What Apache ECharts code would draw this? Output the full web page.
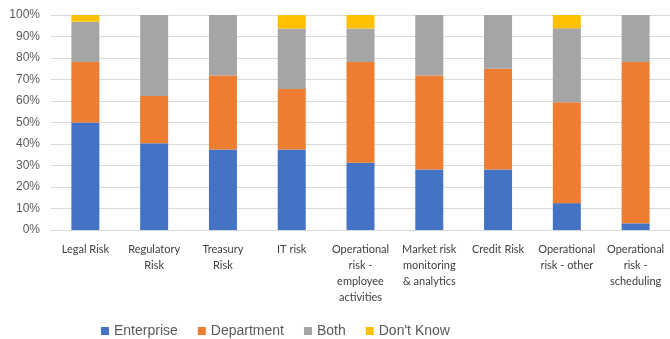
<!DOCTYPE html>
<html>
<head>
<meta charset="utf-8">
<style>
  html, body { margin: 0; padding: 0; background: #fff; }
  #chart { width: 670px; height: 339px; }
</style>
<script src="https://cdn.jsdelivr.net/npm/echarts@6/dist/echarts.min.js"></script>
</head>
<body>
<div id="chart"></div>
<script>
// categories (line breaks as in the original axis)
const categories = [
  'Legal Risk',
  'Regulatory\nRisk',
  'Treasury\nRisk',
  'IT risk',
  'Operational\nrisk -\nemployee\nactivities',
  'Market risk\nmonitoring\n& analytics',
  'Credit Risk',
  'Operational\nrisk - other',
  'Operational\nrisk -\nscheduling'
]

// share of respondents, percent
const enterprise = [50, 40.3, 37.5, 37.5, 31.25, 28.1, 28.1, 12.5, 3.1]
const department = [28.1, 22, 34.4, 28.1, 46.9, 43.8, 46.9, 46.9, 75]
const both = [18.8, 37.7, 28.1, 28.1, 15.6, 28.1, 25, 34.4, 21.9]
const dontKnow = [3.1, 0, 0, 6.25, 6.25, 0, 0, 6.25, 0]

const seriesNames = ['Enterprise', 'Department', 'Both', "Don't Know"]
const colors = ['#4472C4', '#ED7D31', '#A5A5A5', '#FFC000']

const chart = echarts.init(document.getElementById('chart'))

const series = [enterprise, department, both, dontKnow].map((vals, i) => ({
  name: seriesNames[i],
  type: 'bar',
  stack: 'total',
  barWidth: 28,
  itemStyle: { color: colors[i] },
  data: vals
}))

chart.setOption({
  animation: false,
  textStyle: { fontFamily: 'Lato' },
  grid: {
    left: 51,
    top: 15,
    width: 620,
    height: 215
  },
  legend: {
    left: 96,
    top: 319,
    itemWidth: 8,
    itemHeight: 8,
    itemGap: 20,
    icon: 'rect',
    textStyle: { fontSize: 14, color: '#595959', fontFamily: 'Liberation Sans' },
    data: seriesNames
  },
  xAxis: {
    type: 'category',
    data: categories,
    axisLine: { show: true, lineStyle: { color: '#d9d9d9' } },
    axisTick: { show: false },
    axisLabel: {
      interval: 0,
      fontSize: 11,
      lineHeight: 16,
      color: '#404040',
      margin: 11,
      verticalAlign: 'top'
    }
  },
  yAxis: {
    type: 'value',
    min: 0,
    max: 100,
    interval: 10,
    axisLine: { show: false },
    axisTick: { show: false },
    splitLine: { lineStyle: { color: '#d9d9d9', width: 1 } },
    axisLabel: {
      formatter: '{value}%',
      fontSize: 12,
      color: '#595959',
      fontFamily: 'Liberation Sans',
      margin: 11
    }
  },
  series: series
})
</script>
</body>
</html>
